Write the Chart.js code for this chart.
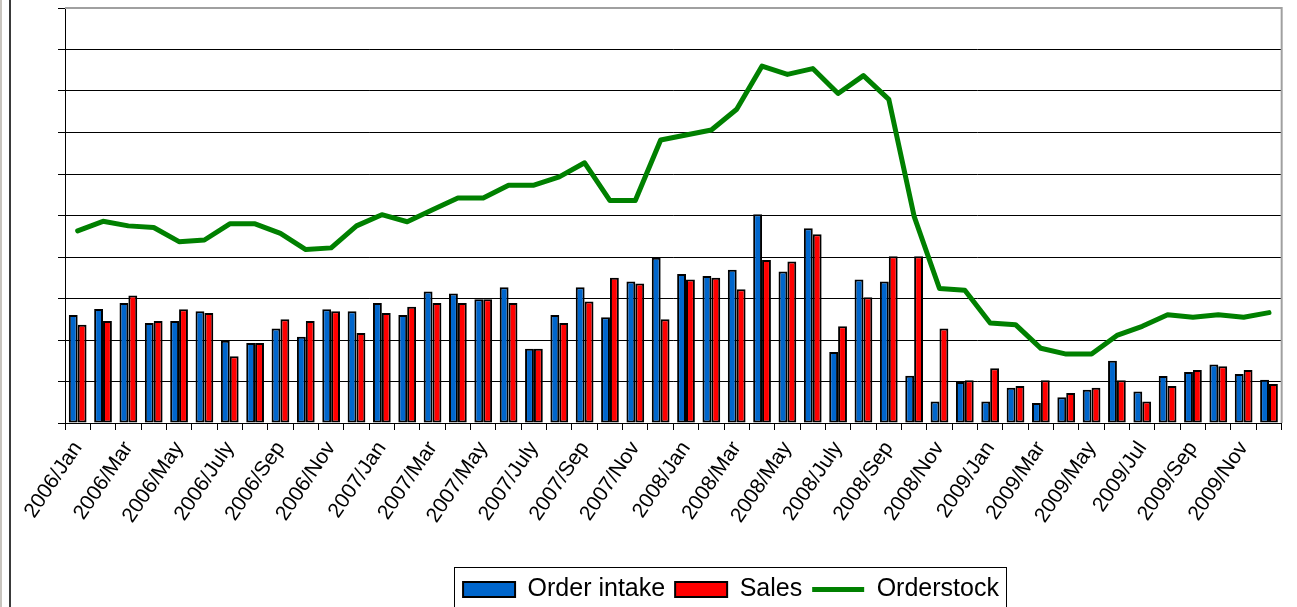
<!DOCTYPE html>
<html lang="en">
<head>
  <meta charset="UTF-8" />
  <title>Order intake, Sales, Orderstock</title>
  <script src="https://cdn.jsdelivr.net/npm/chart.js"></script>
  <style>
    html, body {
      margin: 0;
      padding: 0;
      background: #fff;
    }
    #wrap {
      position: relative;
      width: 1297px;
      height: 607px;
      overflow: hidden;
    }
    #frame {
      position: absolute;
      left: 9px;
      top: 0;
      width: 2px;
      height: 607px;
      background: #3a3a3a;
    }
    #edge {
      position: absolute;
      left: 0;
      top: 0;
      width: 2px;
      height: 607px;
      background: #c8c4be;
    }
  </style>
</head>
<body>
  <div id="wrap">
    <canvas id="chart" width="1297" height="607"></canvas>
    <div id="edge"></div>
    <div id="frame"></div>
  </div>

  <script>
    const categories = [
      '2006/Jan', '2006/Feb', '2006/Mar', '2006/Apr', '2006/May', '2006/June',
      '2006/July', '2006/Aug', '2006/Sep', '2006/Oct', '2006/Nov', '2006/Dec',
      '2007/Jan', '2007/Feb', '2007/Mar', '2007/Apr', '2007/May', '2007/June',
      '2007/July', '2007/Aug', '2007/Sep', '2007/Oct', '2007/Nov', '2007/Dec',
      '2008/Jan', '2008/Feb', '2008/Mar', '2008/Apr', '2008/May', '2008/June',
      '2008/July', '2008/Aug', '2008/Sep', '2008/Oct', '2008/Nov', '2008/Dec',
      '2009/Jan', '2009/Feb', '2009/Mar', '2009/Apr', '2009/May', '2009/Jun',
      '2009/Jul', '2009/Aug', '2009/Sep', '2009/Oct', '2009/Nov', '2009/Dec'
    ];

    const orderIntake = [
      26.0, 27.5, 28.9, 24.1, 24.6, 26.9, 19.8, 19.3, 22.8, 20.8, 27.4, 26.9,
      28.9, 26.0, 31.7, 31.2, 29.8, 32.7, 17.9, 26.0, 32.7, 25.5, 34.1, 39.8,
      35.9, 35.4, 36.9, 50.3, 36.5, 46.9, 17.1, 34.6, 34.1, 11.4, 5.2, 9.9,
      5.2, 8.5, 4.8, 6.2, 8.0, 15.0, 7.6, 11.3, 12.3, 14.1, 11.8, 10.4
    ];

    const sales = [
      23.7, 24.6, 30.7, 24.6, 27.4, 26.5, 16.1, 19.3, 25.0, 24.6, 26.9, 21.7,
      26.5, 28.0, 28.9, 28.9, 29.8, 28.9, 17.9, 24.1, 29.3, 35.0, 33.6, 25.0,
      34.6, 35.0, 32.2, 39.3, 38.9, 45.5, 23.3, 30.3, 40.2, 40.2, 22.8, 10.3,
      13.2, 8.9, 10.3, 7.2, 8.5, 10.3, 5.2, 8.9, 12.8, 13.7, 12.8, 9.4
    ];

    const orderstock = [
      46.3, 48.6, 47.5, 47.1, 43.7, 44.1, 48.0, 48.0, 45.7, 41.8, 42.2, 47.5,
      50.2, 48.5, 51.4, 54.2, 54.2, 57.3, 57.3, 59.3, 62.7, 53.6, 53.6, 68.2,
      69.4, 70.6, 75.6, 86.0, 84.0, 85.4, 79.4, 83.7, 78.0, 49.8, 32.4, 32.0,
      24.1, 23.7, 18.0, 16.6, 16.6, 21.1, 23.3, 26.1, 25.5, 26.1, 25.5, 26.6
    ];

    const yMax = 100;
    const yStep = 10;

    // legend sits a bit right of centre and lower in the original
    const legendShift = { x: 59, y: 5 };

    const framePlugin = {
      id: 'frame',
      beforeDraw(chart) {
        const lg = chart.legend;
        if (!lg || lg._shifted) return;
        lg._shifted = true;
        lg.left += legendShift.x;
        lg.right += legendShift.x;
        lg.top += legendShift.y;
        lg.bottom += legendShift.y;
        (lg.legendHitBoxes || []).forEach(b => {
          b.left += legendShift.x;
          b.top += legendShift.y;
        });
      },
      afterDatasetsDraw(chart) {
        // grey plot border, top and right
        const a = chart.chartArea;
        const ctx = chart.ctx;
        ctx.save();
        ctx.strokeStyle = '#a0a0a0';
        ctx.lineWidth = 2;
        ctx.beginPath();
        ctx.moveTo(a.left, a.top);
        ctx.lineTo(a.right, a.top);
        ctx.lineTo(a.right, a.bottom);
        ctx.stroke();
        ctx.restore();
      },
      afterDraw(chart) {
        // box round the legend
        const boxes = chart.legend && chart.legend.legendHitBoxes;
        if (!boxes || !boxes.length) return;
        const first = boxes[0];
        const last = boxes[boxes.length - 1];
        const ctx = chart.ctx;
        ctx.save();
        ctx.strokeStyle = '#000';
        ctx.lineWidth = 1;
        const l = Math.round(first.left - 9) + 0.5;
        const r = Math.round(last.left + last.width + 7) + 0.5;
        const t = Math.round(first.top - 10) + 0.5;
        ctx.strokeRect(l, t, r - l, 80);
        ctx.restore();
      }
    };

    new Chart(document.getElementById('chart'), {
      type: 'bar',
      data: {
        labels: categories,
        datasets: [
          {
            label: 'Order intake',
            data: orderIntake,
            backgroundColor: '#0066cc',
            borderColor: '#000',
            borderWidth: 2,
            borderSkipped: false,
            categoryPercentage: 0.7,
            barPercentage: 1.0,
            pointStyle: 'rect',
            order: 1
          },
          {
            label: 'Sales',
            data: sales,
            backgroundColor: '#ff0000',
            borderColor: '#000',
            borderWidth: 2,
            borderSkipped: false,
            categoryPercentage: 0.7,
            barPercentage: 1.0,
            pointStyle: 'rect',
            order: 1
          },
          {
            type: 'line',
            label: 'Orderstock',
            data: orderstock,
            borderColor: '#008000',
            backgroundColor: '#008000',
            borderWidth: 5,
            tension: 0,
            pointRadius: 0,
            pointHoverRadius: 0,
            pointStyle: 'line',
            borderJoinStyle: 'round',
            borderCapStyle: 'round',
            order: 0
          }
        ]
      },
      options: {
        responsive: false,
        animation: false,
        events: [],
        layout: {
          padding: { left: 58, right: 11, top: 8, bottom: 0 }
        },
        scales: {
          x: {
            offset: true,
            grid: {
              drawOnChartArea: false,
              drawTicks: true,
              tickLength: 7,
              color: '#000',
              offset: true
            },
            border: { color: '#000', width: 1 },
            ticks: {
              autoSkip: false,
              minRotation: 56,
              maxRotation: 56,
              padding: 7,
              color: '#000',
              font: { family: 'Liberation Sans, Arial, sans-serif', size: 21 },
              callback: function (value, index) {
                return index % 2 === 0 ? this.getLabelForValue(value) : '';
              }
            },
            afterFit(scale) {
              scale.height = 139;
            }
          },
          y: {
            min: 0,
            max: yMax,
            grid: {
              color: '#000',
              lineWidth: 1,
              tickLength: 7,
              drawTicks: true
            },
            border: { color: '#000', width: 1 },
            ticks: {
              display: false,
              stepSize: yStep
            },
            afterFit(scale) {
              scale.width = 7;
            }
          }
        },
        plugins: {
          legend: {
            display: true,
            position: 'bottom',
            labels: {
              usePointStyle: true,
              pointStyleWidth: 52,
              boxHeight: 15,
              padding: 10,
              color: '#000',
              font: { family: 'Liberation Sans, Arial, sans-serif', size: 25 },
              sort: (a, b) => a.datasetIndex - b.datasetIndex
            }
          },
          tooltip: { enabled: false },
          title: { display: false }
        }
      },
      plugins: [framePlugin]
    });
  </script>
</body>
</html>
